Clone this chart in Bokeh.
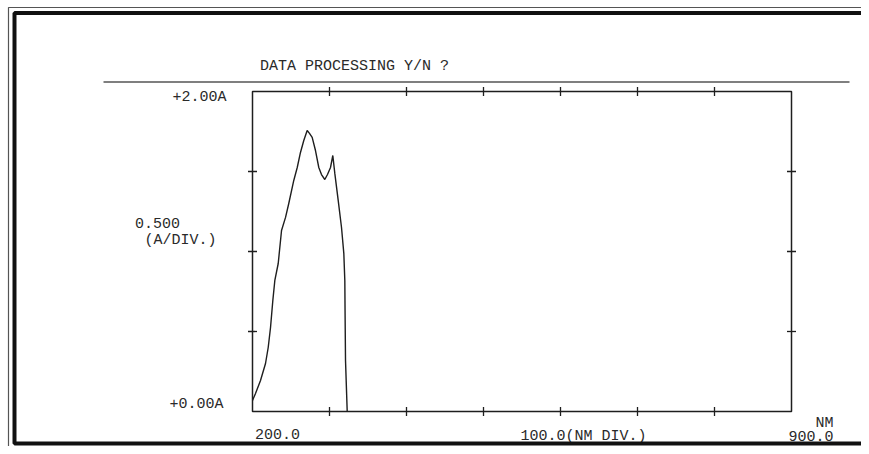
import math
from bokeh.plotting import figure
from bokeh.models import Range1d, Label, BoxAnnotation
from bokeh.embed import file_html
from bokeh.resources import INLINE

# ---- data ----
wavelength_nm = [200.0, 203.9, 210.4, 216.9, 220.4, 223.4, 226.4, 229.0, 233.4, 237.7,
                 242.9, 247.1, 253.6, 258.1, 262.3, 266.6, 271.0, 274.0, 277.5, 281.8,
                 286.1, 289.6, 293.9, 297.4, 301.3, 304.3, 306.9, 311.3, 315.6, 318.6,
                 319.9, 320.2, 320.8, 323.0]
absorbance_A = [0.069, 0.113, 0.194, 0.300, 0.400, 0.525, 0.694, 0.819, 0.925, 1.131,
                1.213, 1.300, 1.444, 1.525, 1.619, 1.694, 1.756, 1.738, 1.713, 1.631,
                1.525, 1.481, 1.450, 1.481, 1.525, 1.600, 1.488, 1.319, 1.150, 0.988,
                0.819, 0.631, 0.319, 0.0]

x_start, x_end = 200.0, 900.0
y_start, y_end = 0.0, 2.0
x_ticks = [300, 400, 500, 600, 700, 800]
y_ticks = [0.5, 1.0, 1.5]

title_text = "DATA PROCESSING Y/N ?"
y_top_label = "+2.00A"
y_bottom_label = "+0.00A"
y_div_value = "0.500"
y_div_unit = "(A/DIV.)"
x_start_label = "200.0"
x_div_label = "100.0(NM DIV.)"
x_end_label = "900.0"
x_unit_label = "NM"

# ---- layout (pixels on the sheet) ----
W, H = 861, 446
BOX_L, BOX_R, BOX_T, BOX_B = 252, 791, 91, 411
FONT = "Liberation Mono"
FS = "15px"
INK = "#1e1e1e"
TXT = "#2a2a2a"

px_x = (BOX_R - BOX_L) / (x_end - x_start)
px_y = (BOX_B - BOX_T) / (y_end - y_start)
x_range = Range1d(x_start - BOX_L / px_x, x_start + (W - BOX_L) / px_x)
y_range = Range1d(y_start - (H - BOX_B) / px_y, y_start + BOX_B / px_y)

p = figure(width=W, height=H, output_backend="svg", toolbar_location=None,
           x_range=x_range, y_range=y_range, min_border=0,
           x_axis_location=None, y_axis_location=None,
           background_fill_color="white", border_fill_color="white")
p.outline_line_color = None
p.grid.visible = False

# plot box and its division ticks (through the data scales)
p.quad(left=[x_start], right=[x_end], bottom=[y_start], top=[y_end],
       fill_color=None, line_color=INK, line_width=1.5)
nx, ny = len(x_ticks), len(y_ticks)
p.scatter(x_ticks * 2, [y_start] * nx + [y_end] * nx, marker="dash",
          angle=math.pi / 2, size=9, line_color=INK, line_width=1.3)
p.scatter([x_start] * ny + [x_end] * ny, y_ticks * 2, marker="dash",
          size=9, line_color=INK, line_width=1.3)

# spectrum
p.line(wavelength_nm, absorbance_A, line_color=INK, line_width=1.4)

# ---- printed texts (sheet pixel positions; screen y counts up from bottom) ----
def lab(text, cx, cy, align="center"):
    p.add_layout(Label(x=cx, y=H - cy, x_units="screen", y_units="screen",
                       text=text, text_font=FONT, text_font_size=FS,
                       text_color=TXT, text_align=align, text_baseline="middle"))

lab(title_text, 354, 66)
lab(y_top_label, 199, 96.5)
lab(y_bottom_label, 196, 404)
lab(y_div_value, 157, 222)
lab(y_div_unit, 180, 240)
lab(x_start_label, 277, 433)
lab(x_div_label, 583, 436)
lab(x_end_label, 833, 435.5, "right")
lab(x_unit_label, 833, 422.5, "right")

# ---- rule under the prompt and the sheet border ----
def sbox(l, r, t, b, **kw):
    p.add_layout(BoxAnnotation(left=l, right=r, top=H - t, bottom=H - b,
                               left_units="screen", right_units="screen",
                               top_units="screen", bottom_units="screen", **kw))

sbox(103, 849, 80.8, 82.2, fill_color="#555555", fill_alpha=1.0,
     line_color=None)
sbox(8, W + 20, 7, H + 20, fill_color=None, fill_alpha=0,
     line_color="#555555", line_alpha=1.0, line_width=1.2)
sbox(14, W + 20, 12.5, 443, fill_color=None, fill_alpha=0,
     line_color="#111111", line_alpha=1.0, line_width=4)

open("out.html", "w").write(file_html(p, INLINE))
